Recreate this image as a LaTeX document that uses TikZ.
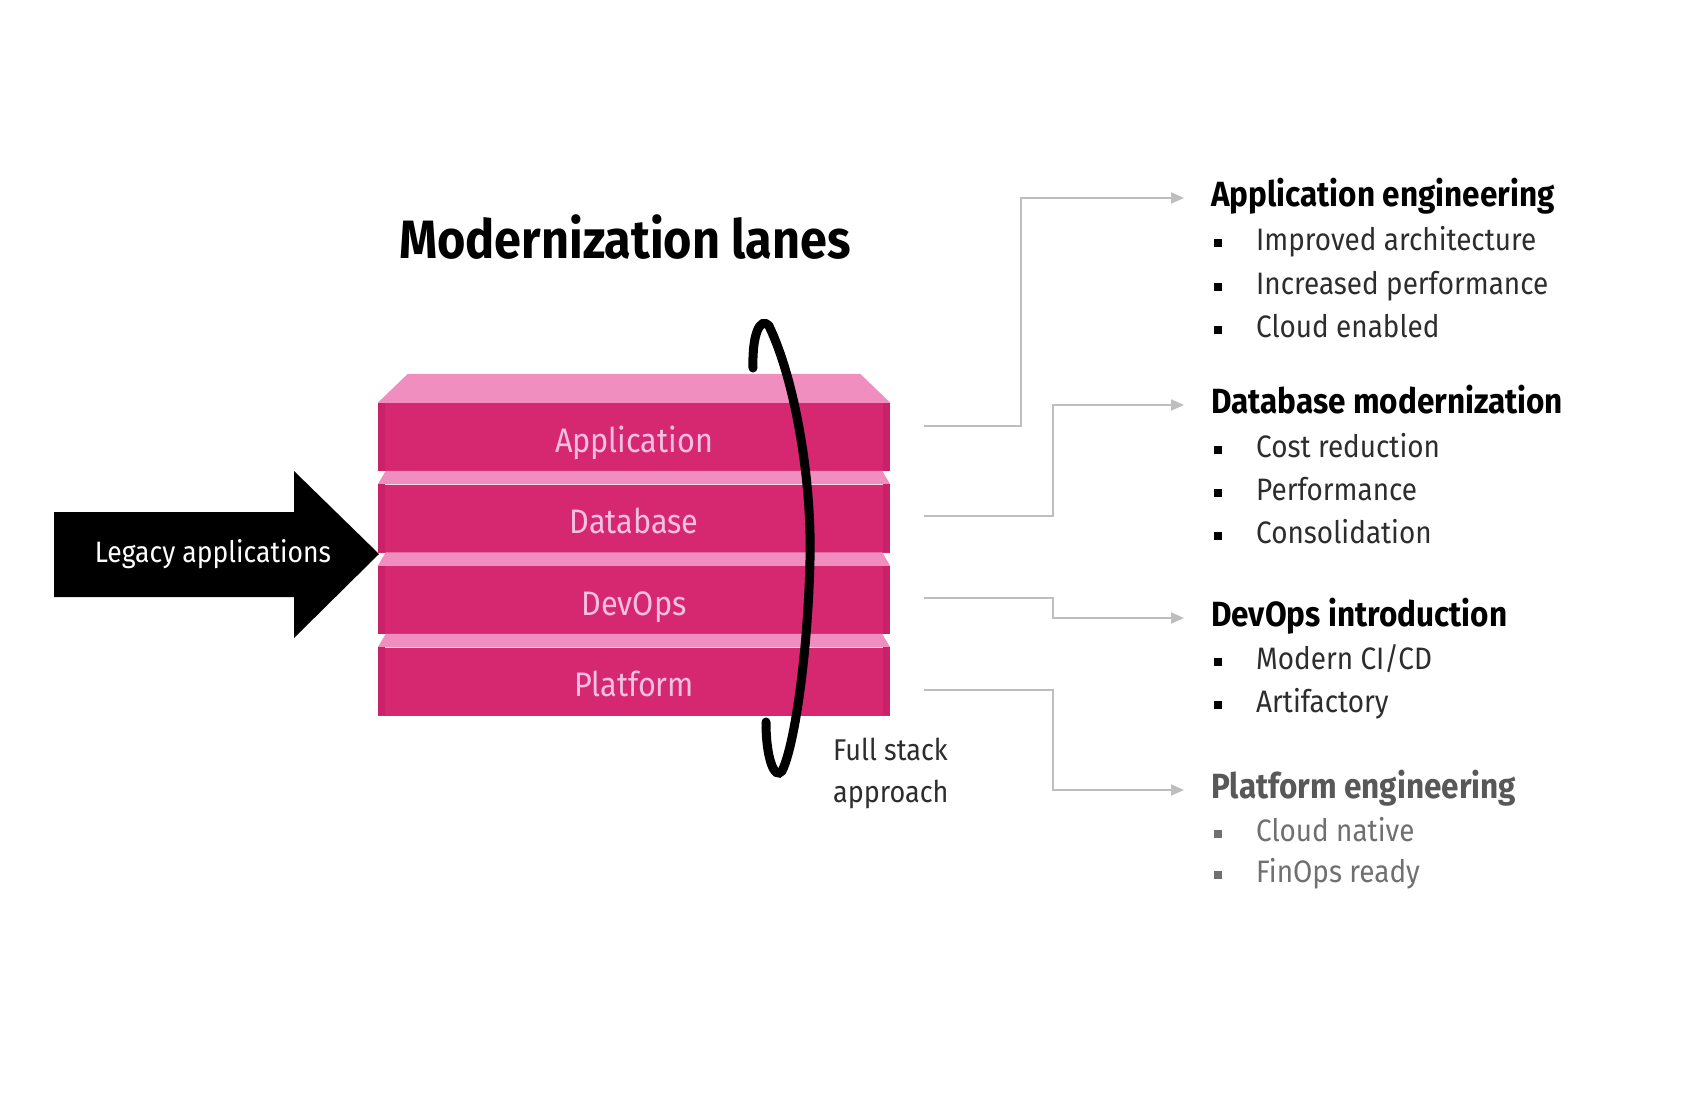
\documentclass[tikz,border=0pt]{standalone}
\usepackage{fontspec}
\setmainfont{Fira Sans}[FakeStretch=0.9]
\usetikzlibrary{arrows.meta}

\definecolor{lanefront}{RGB}{213,40,112}
\definecolor{laneedge}{RGB}{202,34,104}
\definecolor{lanetop}{RGB}{240,142,192}
\definecolor{lanetext}{RGB}{247,192,226}
\definecolor{linkgray}{RGB}{190,190,190}
\definecolor{itemgray}{RGB}{45,45,45}
\definecolor{softgray}{RGB}{88,88,88}
\definecolor{palegray}{RGB}{112,112,112}

\tikzset{
  lane/.style={fill=lanefront, text=lanetext, minimum width=512, minimum height=68,
    inner sep=0pt, text height=36pt, text depth=6pt, font=\fontsize{34}{40}\selectfont},
  heading/.style={anchor=west, inner sep=0pt, text height=26pt, text depth=9pt,
    font=\fontsize{35}{40}\selectfont\bfseries},
  item/.style={anchor=west, inner sep=0pt, text height=23pt, text depth=8pt,
    text=itemgray, font=\fontsize{31}{36}\selectfont},
  link/.style={draw=linkgray, line width=2pt, shorten >=27pt,
    -{Triangle[length=13pt,width=11pt]}}
}

\begin{document}
\begin{tikzpicture}[x=1pt, y=-1pt]
  \fill[white] (0,0) rectangle (1708,1100);
  \useasboundingbox (0,0) rectangle (1708,1100);

  \node[font=\fontsize{54}{60}\selectfont\bfseries, inner sep=0pt] (title) at (625,237) {Modernization lanes};

  % the stack of lanes
  \node[lane] (app) at (634,437) {Application};
  \node[lane] (db) at (634,518.5) {Database};
  \node[lane] (dev) at (634,600) {DevOps};
  \node[lane] (plat) at (634,681.5) {Platform};
  \fill[lanetop] (app.north west) -- ++(30,-29) -- ([xshift=-30pt,yshift=29pt]app.north east) -- (app.north east) -- cycle;
  \foreach \l in {db,dev,plat}
    \fill[lanetop] (\l.north west) -- ++(8,-13.5) -- ([xshift=-8pt,yshift=13.5pt]\l.north east) -- (\l.north east) -- cycle;
  \foreach \l in {app,db,dev,plat} {
    \fill[laneedge] (\l.north west) rectangle ++(7,68);
    \fill[laneedge] (\l.north east) rectangle ++(-7,68);
  }

  % full stack ring
  \draw[line width=9pt, line cap=round] (753,368) .. controls (752,335) and (760,316) .. (769,326)
    .. controls (795,380) and (812,480) .. (810,560)
    .. controls (808,650) and (795,745) .. (782,771)
    .. controls (775,780) and (766,760) .. (766,722);
  \node[anchor=north west, align=left, inner sep=0pt, text=itemgray,
    font=\fontsize{30}{42}\selectfont] (fullstack) at (833,738) {Full stack\\approach};

  % legacy input
  \fill (54,512) -- (294,512) -- (294,471) -- (379,554) -- (294,638) -- (294,597) -- (54,597) -- cycle;
  \node[text=white, font=\fontsize{29.5}{36}\selectfont] (legacy) at (213,554) {Legacy applications};

  % outcomes
  \node[heading] (headapp) at (1211,198) {Application engineering};
  \node[heading] (headdb) at (1211,405) {Database modernization};
  \node[heading] (headdev) at (1211,618) {DevOps introduction};
  \node[heading, text=softgray] (headplat) at (1211,790) {Platform engineering};

  \foreach \y/\txt in {243/Improved architecture, 287/Increased performance, 330/Cloud enabled,
                       450/Cost reduction, 493/Performance, 536/Consolidation,
                       662/{Modern CI/CD}, 705/Artifactory} {
    \fill (1214,{\y-4}) rectangle ++(8,8);
    \node[item] (item\y) at (1256,\y) {\txt};
  }
  \foreach \y/\txt in {834/Cloud native, 875/FinOps ready} {
    \fill[palegray] (1214,{\y-4}) rectangle ++(8,8);
    \node[item, text=palegray] (item\y) at (1256,\y) {\txt};
  }

  \coordinate (appout) at (924,426);
  \coordinate (dbout) at (924,516);
  \coordinate (devout) at (924,598);
  \coordinate (platout) at (924,690);
  \draw[link] (appout) -- (1021,426) |- (headapp.west);
  \draw[link] (dbout) -- (1053,516) |- (headdb.west);
  \draw[link] (devout) -- (1053,598) |- (headdev.west);
  \draw[link] (platout) -- (1053,690) |- (headplat.west);
\end{tikzpicture}
\end{document}
